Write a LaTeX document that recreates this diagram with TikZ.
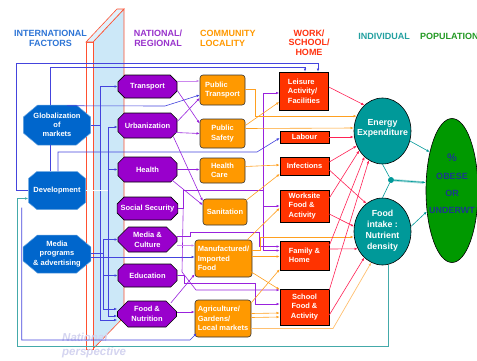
\documentclass[tikz,border=0pt]{standalone}
\usepackage{fontspec}
\setmainfont{Liberation Sans}
\usetikzlibrary{shapes.misc,shapes.geometric,arrows.meta,calc}
\definecolor{octblue}{HTML}{0066CC}
\definecolor{natpur}{HTML}{9900CC}
\definecolor{comor}{HTML}{FF9900}
\definecolor{wred}{HTML}{FF3300}
\definecolor{indteal}{HTML}{009999}
\definecolor{popgreen}{HTML}{009900}
\definecolor{lnblue}{HTML}{4444DD}
\definecolor{lnpur}{HTML}{9922DD}
\definecolor{lnlpur}{HTML}{CC88EE}
\definecolor{lnor}{HTML}{FFA020}
\definecolor{lnlor}{HTML}{FFC070}
\definecolor{lnred}{HTML}{FF2255}
\definecolor{lnteal}{HTML}{44AAAA}
\definecolor{slabblue}{HTML}{CCE8F8}
\definecolor{slabred}{HTML}{FF5030}
\definecolor{hblue}{HTML}{2E75D6}
\definecolor{hpur}{HTML}{9933CC}
\definecolor{hor}{HTML}{FF9900}
\definecolor{hred}{HTML}{FF3311}
\definecolor{hteal}{HTML}{22A0A0}
\definecolor{hgreen}{HTML}{229922}
\definecolor{darkbl}{HTML}{1A3A8C}
\definecolor{natpersp}{HTML}{D4D4F0}
\newcommand\myfs[2]{\fontsize{#1}{#2}\selectfont}
\tikzset{
 hdr/.style={font=\bfseries\myfs{9}{10}, align=center, inner sep=0pt},
 ob/.style={chamfered rectangle, chamfered rectangle xsep=10pt, chamfered rectangle angle=50, draw=octblue!60!white, fill=octblue, text=white, font=\bfseries\myfs{7.5}{9.2}, align=center, inner sep=0pt, minimum width=57pt, minimum height=38pt, line width=0.5pt},
 op/.style={chamfered rectangle, chamfered rectangle xsep=7pt, draw=black, fill=natpur, text=white, font=\bfseries\myfs{7.5}{10}, align=center, inner sep=0pt, minimum width=59pt, line width=0.6pt},
 cb/.style={rounded corners=3pt, draw=black!80, fill=comor, text=white, font=\bfseries\myfs{7.5}{9.5}, align=left, inner sep=0pt, line width=0.6pt},
 wb/.style={draw=black, fill=wred, text=white, font=\bfseries\myfs{7.5}{9.4}, align=left, inner sep=0pt, minimum width=49pt, line width=0.6pt},
 el/.style={ellipse, draw=black, fill=indteal, inner sep=0pt, line width=0.6pt},
 eltx/.style={text=white, font=\bfseries\myfs{8.8}{10.7}, align=center, inner sep=0pt},
 lb/.style={draw=lnblue, line width=0.6pt},
 lp/.style={draw=lnpur, line width=0.6pt},
 lpl/.style={draw=lnlpur, line width=0.7pt},
 lo/.style={draw=lnor, line width=0.6pt},
 lol/.style={draw=lnlor, line width=0.7pt},
 lr/.style={draw=lnred, line width=0.6pt},
 lt/.style={draw=indteal, line width=0.6pt},
}
\begin{document}
\begin{tikzpicture}[x=1pt,y=-1pt,>={Latex[length=3.2pt,width=2.6pt]}]
\useasboundingbox (0,0) rectangle (477,360);
\fill[white] (0,0) rectangle (477,360);
% slab
\filldraw[fill=slabblue, draw=slabred, line width=0.6pt] (93,42) -- (124,9) -- (124,317) -- (93,349) -- cycle;
\filldraw[fill=white, draw=slabred, line width=0.6pt] (86,42) -- (93,42) -- (93,349) -- (86,349) -- cycle;
\filldraw[fill=slabblue!60!white, draw=slabred, line width=0.6pt] (86,42) -- (117,9) -- (124,9) -- (93,42) -- cycle;
\node[font=\bfseries\itshape\myfs{11.5}{14}, text=natpersp, align=left, anchor=west, inner sep=0pt] (natp) at (62,346) {National\\perspective};
% headers
\node[hdr, text=hblue] (h1) at (50.5,38.5) {INTERNATIONAL\\FACTORS};
\node[hdr, text=hpur] (h2) at (158,38.5) {NATIONAL/\\REGIONAL};
\node[hdr, text=hor, align=left, anchor=west] (h3) at (200,38.5) {COMMUNITY\\LOCALITY};
\node[hdr, text=hred, font=\bfseries\myfs{9}{9.6}] (h4) at (309,42.5) {WORK/\\SCHOOL/\\HOME};
\node[hdr, text=hteal] (h5) at (384,36) {INDIVIDUAL};
\node[hdr, text=hgreen, anchor=west] (h6) at (420,36) {POPULATION};
% international
\node[ob, minimum height=40pt] (glob) at (57,125) {Globalization\\of\\markets};
\node[ob] (dev) at (57,190.5) {Development};
\node[ob] (media) at (57,254) {Media\\programs\\\& advertising};
% national
\node[op, minimum height=23pt] (trans) at (147.5,86.5) {Transport};
\node[op, minimum height=25pt] (urb) at (147.5,125.5) {Urbanization};
\node[op, minimum height=25pt] (hlth) at (147.5,169.5) {Health};
\node[op, minimum height=23pt] (soc) at (147.5,208.5) {Social Security};
\node[op, minimum height=25pt] (mcult) at (147.5,239.5) {Media \&\\Culture};
\node[op, minimum height=23pt] (edu) at (147.5,275.5) {Education};
\node[op, minimum height=26pt] (fnut) at (147,314) {Food \&\\Nutrition};
% community
\node[cb, minimum width=45pt, minimum height=30pt] (ptrans) at (222.5,90) {Public\\Transport};
\node[cb, minimum width=45pt, minimum height=29pt, align=center] (psafe) at (222.5,133.5) {Public\\Safety};
\node[cb, minimum width=45pt, minimum height=25pt] (hcare) at (222.5,170.5) {Health\\Care};
\node[cb, minimum width=44pt, minimum height=26pt, align=center] (sanit) at (225,212) {Sanitation};
\node[cb, minimum width=57pt, minimum height=37pt] (manu) at (223.5,258.5) {Manufactured/\\Imported\\Food};
\node[cb, minimum width=56pt, minimum height=37pt] (agri) at (223,318.5) {Agriculture/\\Gardens/\\Local markets};
% work school home
\node[wb, minimum height=38pt] (leis) at (304,91) {Leisure\\Activity/\\Facilities};
\node[wb, minimum height=12pt, align=center] (lab) at (304.5,137) {Labour};
\node[wb, minimum height=18pt, align=center] (inf) at (304.5,166) {Infections};
\node[wb, minimum height=32pt] (work) at (304.5,206) {Worksite\\Food \&\\Activity};
\node[wb, minimum height=29pt] (fam) at (304.5,255.5) {Family \&\\Home};
\node[wb, minimum height=36pt, align=center] (sch) at (304.5,307) {School\\Food \&\\Activity};
% individual
\node[el, minimum width=57pt, minimum height=66pt] (ener) at (382.5,131) {};
\node[eltx] (enertx) at (382.5,128.5) {Energy\\Expenditure};
\node[el, minimum width=57pt, minimum height=67pt] (fint) at (382.5,231.5) {};
\node[eltx, font=\bfseries\myfs{8.8}{11}] (finttx) at (382.5,230.5) {Food\\intake :\\Nutrient\\density};
\node[ellipse, draw=black, fill=popgreen, line width=0.6pt, minimum width=52pt, minimum height=144pt, inner sep=0pt] (pop) at (452,190.5) {};
\node[text=darkbl, font=\bfseries\myfs{9}{17.3}, align=center, inner sep=0pt] (poptx) at (452,184) {{\myfs{11}{17.3}\%}\\OBESE\\OR\\UNDERWT};
\node[circle, fill=indteal, inner sep=0pt, minimum size=6pt] (jn) at (391,180) {};
% ---- blue connectors
\draw[lb,->] (dev.west) -- ++(-11.5,0) |- ($(leis.north)+(14,-8)$) -- ($(leis.north)+(14,0)$);
\draw[lb,->] ($(glob.north)+(-7,0)$) |- ($(leis.north)+(1,-4)$) -- ($(leis.north)+(1,0)$);
\draw[lb,->] ($(glob.north)+(10,1)$) -- (165,106) -- ($(ptrans.west)+(0,5)$);
\draw[lb] (glob.east) -- (100,125);
\draw[lb] (100,86.5) -- (100,320);
\draw[lb,->] (100,86.5) -- (trans.west);
\draw[lb,->] (100,320) -- ($(fnut.west)+(0,6)$);
\draw[white, line width=0.7pt] (dev.east) -- (108,190.5);
\draw[lb] (108,127) -- (108,316);
\draw[lb,->] (108,127) -- ($(urb.west)+(0,1.5)$);
\draw[lb,->] (108,169.5) -- (hlth.west);
\draw[lb,->] (108,316) -- ($(fnut.west)+(0,2)$);
\draw[lb] ($(media.east)+(0,-1)$) -- (103,253);
\draw[lb] (103,239.5) -- (103,309);
\draw[lb,->] (103,239.5) -- (mcult.west);
\draw[lb,->] (103,275.5) -- (edu.west);
\draw[lb,->] (103,309) -- ($(fnut.west)+(0,-5)$);
\draw[lb,->] ($(media.east)+(0,3)$) -- ($(manu.west)+(0,-1.5)$);
\draw[lb] ($(glob.south)+(-7,0)$) -- ($(dev.north)+(-7,0)$);
\draw[lb,->] ($(dev.north)+(1,0)$) |- (257,152) -- ($(lab.west)+(0,1)$);
\draw[lb,->] ($(dev.west)+(-6.5,17)$) |- (190,340) -- ($(agri.south west)+(2,-4)$);
% ---- purple connectors
\draw[lpl,->] ($(trans.east)+(0,-5.5)$) -- ($(ptrans.west)+(0,-9)$);
\draw[lp,->] ($(trans.east)+(0,4)$) -- ($(psafe.west)+(0,-10)$);
\draw[lp,->] ($(urb.east)+(0,-4)$) -- ($(ptrans.west)+(0,8)$);
\draw[lp,->] ($(urb.east)+(-2,7)$) -- (psafe.west);
\draw[lp,->] ($(urb.east)+(-4,11)$) -- ($(sanit.west)+(0,-11)$);
\draw[lp,->] (hlth.east) -- (hlth.east -| hcare.west);
\draw[lp,->] ($(hlth.east)+(-6,10)$) -- ($(sanit.west)+(0,-7)$);
\draw[lp] (soc.east) -- ++(5,0) |- (263,190);
\draw[lp,->] (263,190) |- ($(leis.west)+(0,2)$);
\draw[lp,->] (263,190) |- (work.west);
\draw[lp,->] (263,190) |- ($(fam.west)+(0,-5)$);
\draw[lp,->] ($(soc.east)+(5,0)$) -- (182,272) -- (196,290) -- ($(sch.west)+(0,-17)$);
\draw[lp,->] ($(mcult.east)+(0,-3)$) -- ++(13,0) |- (259,232) |- ($(fam.west)+(0,-9)$);
\draw[lpl,->] ($(mcult.east)+(0,6)$) -- ($(manu.west)+(0,-13)$);
\draw[lp,->] (edu.east) -- ++(7,0) |- (255,283) |- ($(sch.west)+(0,-3)$);
\draw[lp,->] ($(fnut.east)+(0,-2)$) -- ($(agri.west)+(0,-6.5)$);
\draw[lp,->] ($(fnut.east)+(-6,-11)$) -- ($(manu.south west)+(0,-3)$);
% ---- orange connectors
\draw[lo,->] ($(ptrans.east)+(0,-1)$) -- ++(10,0) |- (ener.150);
\draw[lo,->] ($(psafe.east)+(0,-8)$) -- ($(leis.west)+(0,11)$);
\draw[lo,->] ($(psafe.east)+(0,-5)$) -- ($(ener.west)+(0,-3)$);
\draw[lo,->] ($(hcare.east)+(0,-4)$) -- ($(inf.west)+(0,-1)$);
\draw[lo,->] ($(sanit.east)+(-2,-11)$) -- ($(inf.west)+(0,8)$);
\draw[lo,->] ($(manu.north east)+(-5,0)$) -- ($(work.west)+(0,2)$);
\draw[lo,->] ($(manu.east)+(0,-8)$) -- ++(8,0) |- ($(fint.west)+(0,5.5)$);
\draw[lo,->] ($(manu.east)+(0,-2)$) -- ($(fam.west)+(0,1)$);
\draw[lo,->] ($(manu.south east)+(-2,-6)$) -- ($(sch.north west)+(0,1)$);
\draw[lo,->] ($(agri.north east)+(0,3)$) -- ($(fam.south west)+(0,-1)$);
\draw[lo,->] ($(agri.east)+(0,-5)$) -- ($(sch.west)+(0,6)$);
\draw[lo,->] ($(agri.east)+(0,-1)$) -- ($(sch.west)+(0,10)$);
\draw[lol,->] ($(agri.east)+(0,10)$) -- (333,328.5) -- (fint.-110);
% ---- red connectors
\draw[lr,->] ($(leis.east)+(0,-4)$) -- (ener.125);
\draw[lr,->] (lab.east) -- (lab.east -| ener.west);
\draw[lr,->] ($(inf.east)+(0,-4)$) -- (ener.210);
\draw[lr,->] ($(inf.east)+(0,4)$) -- (fint.120);
\draw[lr,->] ($(work.east)+(0,-8)$) -- (ener.220);
\draw[lr,->] ($(work.east)+(0,8)$) -- (fint.170);
\draw[lr,->] ($(fam.east)+(0,-10)$) -- (ener.235);
\draw[lr,->] ($(fam.east)+(0,-6.5)$) -- (fint.215);
\draw[lr,->] ($(sch.east)+(0,-17)$) -- (ener.245);
\draw[lr,->] ($(sch.east)+(0,8)$) -- (fint.235);
% ---- teal connectors
\draw[lt] (ener.south) -- (jn);
\draw[lt] (fint.north) -- (jn);
\draw[indteal!35, line width=2.4pt] (jn) -- ($(pop.west)+(-3,-8)$);
\draw[lt,->] (jn) -- ($(pop.west)+(0,-8)$);
\draw[lt,->] (ener.-20) -- (pop.120);
\draw[lt,->] (fint.10) -- (pop.220);
\draw[draw=lnteal, line width=0.8pt,->] (fint.-80) |- (17,346) |- ($(dev.west)+(0,8)$);
\end{tikzpicture}
\end{document}
